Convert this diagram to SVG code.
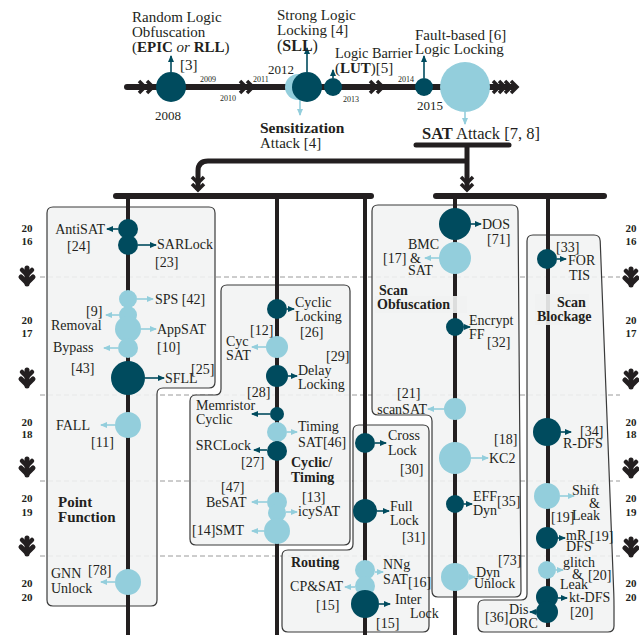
<svg xmlns="http://www.w3.org/2000/svg" width="639" height="635" viewBox="0 0 639 635">
<style>
text{font-family:"Liberation Serif","DejaVu Serif",serif;font-size:14px;fill:#231f20}
.b{font-weight:bold}
.it{font-style:italic}
.s{font-size:8px}
.m{font-size:13px}
.yr{font-size:11px;font-weight:bold;text-anchor:middle}
.e{text-anchor:end}
.dk{fill:#004b5e}
.lt{fill:#93cedc}
.ad{stroke:#004b5e;stroke-width:1.6;fill:none;marker-end:url(#mad)}
.al{stroke:#93cedc;stroke-width:1.6;fill:none;marker-end:url(#mal)}
.box{fill:#f1f2f2;fill-opacity:0.88;stroke:#3a3a3a;stroke-width:1.2}
.dash{stroke:#9a9a9a;stroke-width:1;stroke-dasharray:5 3}
.col{stroke:#231f20;stroke-width:4;fill:none}
.bar{stroke:#231f20;stroke-width:6;fill:none;stroke-linecap:round}
.ch{stroke:#231f20;stroke-width:3.5;fill:none}
</style>
<defs>
<marker id="mad" markerUnits="userSpaceOnUse" markerWidth="7" markerHeight="6" refX="6" refY="3" orient="auto"><path d="M0,0 L7,3 L0,6 Z" fill="#004b5e"/></marker>
<marker id="mal" markerUnits="userSpaceOnUse" markerWidth="7" markerHeight="6" refX="6" refY="3" orient="auto"><path d="M0,0 L7,3 L0,6 Z" fill="#93cedc"/></marker>
<path id="chr" d="M-4,-6 L2,0 L-4,6"/>
<path id="chd" d="M-6,-4 L0,2 L6,-4"/>
<g id="ych" fill="none" stroke="#231f20" stroke-linecap="round" stroke-linejoin="round">
<path d="M-5,-7 L0,-2 L5,-7" stroke-width="4.5"/>
<path d="M-6,0 L0,6 L6,0" stroke-width="5"/>
<path d="M0,-9 V7" stroke-width="5"/>
</g>
</defs>

<!-- dashed year separators -->
<g id="separators">
<line class="dash" x1="40" y1="277" x2="620" y2="277"/>
<line class="dash" x1="40" y1="395" x2="620" y2="395"/>
<line class="dash" x1="40" y1="481" x2="620" y2="481"/>
<line class="dash" x1="40" y1="556" x2="620" y2="556"/>
</g>

<!-- year labels -->
<g id="years">
<text class="yr" x="27" y="232">20</text><text class="yr" x="27" y="245">16</text>
<text class="yr" x="27" y="324">20</text><text class="yr" x="27" y="337">17</text>
<text class="yr" x="27" y="426">20</text><text class="yr" x="27" y="438">18</text>
<text class="yr" x="27" y="502">20</text><text class="yr" x="27" y="516">19</text>
<text class="yr" x="27" y="587">20</text><text class="yr" x="27" y="601">20</text>
<text class="yr" x="631" y="232">20</text><text class="yr" x="631" y="245">16</text>
<text class="yr" x="631" y="324">20</text><text class="yr" x="631" y="337">17</text>
<text class="yr" x="631" y="426">20</text><text class="yr" x="631" y="438">18</text>
<text class="yr" x="631" y="502">20</text><text class="yr" x="631" y="516">19</text>
<text class="yr" x="631" y="587">20</text><text class="yr" x="631" y="601">20</text>
<use href="#ych" x="27" y="277"/><use href="#ych" x="27" y="379"/><use href="#ych" x="27" y="468"/><use href="#ych" x="27" y="547"/>
<use href="#ych" x="631" y="278"/><use href="#ych" x="631" y="380"/><use href="#ych" x="631" y="469"/><use href="#ych" x="631" y="548"/>
</g>

<!-- category boxes -->
<g id="box-point-function">
<path class="box" d="M53,207 H209 Q215,207 215,213 V382 Q215,388 209,388 H163 Q157,388 157,394 V600 Q157,606 151,606 H53 Q47,606 47,600 V213 Q47,207 53,207 Z"/>
<text class="b" x="58" y="507" style="font-size:15px">Point</text>
<text class="b" x="58" y="522" style="font-size:15px">Function</text>
</g>
<g id="box-cyclic-timing">
<path class="box" d="M227,285 H344 Q350,285 350,291 V539 Q350,545 344,545 H196 Q190,545 190,539 V401 Q190,395 196,395 H215 Q221,395 221,389 V291 Q221,285 227,285 Z"/>
</g>
<g id="box-routing">
<path class="box" d="M359,425 H423 Q429,425 429,431 V626 Q429,632 423,632 H288 Q282,632 282,626 V556 Q282,550 288,550 H347 Q353,550 353,544 V431 Q353,425 359,425 Z"/>
</g>
<g id="box-scan-obfuscation">
<path class="box" d="M378,205 H512 Q518,205 518,211 L521,591 Q521,597 515,597 H438 Q432,597 432,591 V421 Q432,415 426,415 H378 Q372,415 372,409 V211 Q372,205 378,205 Z"/>
</g>
<g id="box-scan-blockage">
<path class="box" d="M533,235 H594 Q600,235 600.2,241 L613.8,594 Q614,600 614,606 V626 Q614,632 608,632 H484 Q478,632 478,626 V606 Q478,600 484,600 H521 Q527,600 527,594 V241 Q527,235 533,235 Z"/>
</g>

<!-- connectors -->
<g id="connectors">
<line class="bar" x1="127" y1="87" x2="512" y2="87"/>
<use href="#chr" class="ch" x="143" y="87"/><use href="#chr" class="ch" x="151" y="87"/>
<use href="#chr" class="ch" x="244" y="87"/><use href="#chr" class="ch" x="251" y="87"/>
<use href="#chr" class="ch" x="374" y="87"/><use href="#chr" class="ch" x="381" y="87"/>
<use href="#chr" class="ch" x="497" y="87"/><use href="#chr" class="ch" x="503" y="87"/><use href="#chr" class="ch" x="509" y="87"/><use href="#chr" class="ch" x="515" y="87"/>
<line class="bar" x1="416" y1="145" x2="509" y2="145" style="stroke-width:5"/>
<path class="col" d="M467,145 V190" style="stroke-width:5"/>
<path class="col" d="M467,161 H208 Q198,161 198,171 V190" style="stroke-width:5"/>
<use href="#chd" class="ch" x="198" y="181"/><use href="#chd" class="ch" x="198" y="188"/>
<use href="#chd" class="ch" x="467" y="181"/><use href="#chd" class="ch" x="467" y="188"/>
<line class="bar" x1="116" y1="196" x2="371" y2="196"/>
<line class="bar" x1="436" y1="196" x2="604" y2="196"/>
<line class="col" x1="128" y1="196" x2="128" y2="635"/>
<line class="col" x1="277" y1="196" x2="277" y2="635"/>
<line class="col" x1="365" y1="196" x2="365" y2="635"/>
<line class="col" x1="455" y1="196" x2="455" y2="635"/>
<line class="col" x1="548" y1="196" x2="548" y2="627"/>
</g>

<rect x="375" y="296" width="92" height="17" fill="#f1f2f2" fill-opacity="0.9"/>
<rect x="535" y="294" width="54" height="31" fill="#f1f2f2" fill-opacity="0.9"/>
<g id="labels-scan">
<text class="b" x="379" y="295">Scan</text>
<text class="b" x="377" y="309">Obfuscation</text>
<text class="b" x="557" y="307">Scan</text>
<text class="b" x="537" y="321">Blockage</text>
</g>
<g id="labels-cyclic-routing">
<text class="b" x="291" y="467">Cyclic/</text>
<text class="b" x="291" y="482">Timing</text>
<text class="b" x="291" y="567">Routing</text>
</g>

<!-- top timeline nodes -->
<g id="n-rll">
<circle class="dk" cx="171" cy="87" r="15"/>
<line class="ad" x1="171" y1="72" x2="171" y2="56"/>
<text x="132" y="22" style="font-size:15px">Random Logic</text>
<text x="132" y="37" style="font-size:15px">Obfuscation</text>
<text x="132" y="52" style="font-size:15px">(<tspan class="b">EPIC</tspan> <tspan class="it">or</tspan> <tspan class="b">RLL</tspan>)</text>
<text x="180" y="70" style="font-size:15px">[3]</text>
<text class="m" x="155" y="120">2008</text>
</g>
<g id="yr-labels-top">
<text class="s" x="200" y="82">2009</text>
<text class="s" x="220" y="101">2010</text>
<text class="s" x="253" y="82">2011</text>
<text class="s" x="343" y="102">2013</text>
<text class="s" x="398" y="82">2014</text>
<text class="m" x="268" y="74">2012</text>
<text class="m" x="417" y="110">2015</text>
</g>
<g id="n-sensitization">
<circle class="lt" cx="298" cy="87" r="13"/>
<line class="al" x1="300" y1="100" x2="300" y2="115"/>
<text class="b" x="260" y="133" style="font-size:15.5px">Sensitization</text>
<text x="260" y="148" style="font-size:15px">Attack [4]</text>
</g>
<g id="n-sll">
<circle class="dk" cx="307" cy="87" r="15"/>
<line class="ad" x1="307" y1="72" x2="307" y2="48"/>
<text x="277" y="20" style="font-size:15px">Strong Logic</text>
<text x="277" y="35" style="font-size:15px">Locking [4]</text>
<text x="277" y="51" style="font-size:16px">(<tspan class="b">SLL</tspan>)</text>
</g>
<g id="n-lut">
<circle class="dk" cx="333" cy="87" r="9"/>
<line class="ad" x1="333" y1="78" x2="333" y2="70"/>
<text x="335" y="58" style="font-size:14.3px">Logic Barrier</text>
<text x="335" y="73" style="font-size:15px">(<tspan class="b">LUT</tspan>)[5]</text>
</g>
<g id="n-fault">
<circle class="dk" cx="424" cy="87" r="9"/>
<line class="ad" x1="424" y1="78" x2="424" y2="56"/>
<text x="415" y="40" style="font-size:15px">Fault-based [6]</text>
<text x="415" y="54" style="font-size:15px">Logic Locking</text>
</g>
<g id="n-sat">
<circle class="lt" cx="465" cy="87" r="25"/>
<line class="al" x1="465" y1="112" x2="465" y2="124"/>
<text x="422" y="139" style="font-size:16.5px"><tspan class="b">SAT</tspan> Attack [7, 8]</text>
</g>

<!-- column A: point function -->
<g id="n-antisat">
<circle class="dk" cx="128" cy="229" r="10"/>
<line class="ad" x1="118" y1="229" x2="107" y2="229"/>
<text class="e" x="105" y="234">AntiSAT</text>
<text x="67" y="251">[24]</text>
</g>
<g id="n-sarlock">
<circle class="dk" cx="128" cy="245" r="10"/>
<line class="ad" x1="138" y1="245" x2="156" y2="245"/>
<text x="157" y="249">SARLock</text>
<text x="155" y="267">[23]</text>
</g>
<g id="n-sps">
<circle class="lt" cx="128" cy="299" r="9"/>
<line class="al" x1="137" y1="299" x2="153" y2="299"/>
<text x="155" y="304">SPS [42]</text>
</g>
<g id="n-removal">
<circle class="lt" cx="128" cy="315" r="9"/>
<line class="al" x1="119" y1="315" x2="106" y2="315"/>
<text x="86" y="316">[9]</text>
<text x="51" y="330">Removal</text>
</g>
<g id="n-appsat">
<circle class="lt" cx="128" cy="329" r="13"/>
<line class="al" x1="141" y1="329" x2="156" y2="329"/>
<text x="157" y="334">AppSAT</text>
<text x="157" y="352">[10]</text>
</g>
<g id="n-bypass">
<circle class="lt" cx="128" cy="348" r="10"/>
<line class="al" x1="118" y1="348" x2="104" y2="348"/>
<text x="53" y="352">Bypass</text>
<text x="71" y="373">[43]</text>
</g>
<g id="n-sfll">
<circle class="dk" cx="128" cy="378" r="17"/>
<line class="ad" x1="145" y1="378" x2="164" y2="378"/>
<text x="165" y="383">SFLL</text>
<text x="191" y="374">[25]</text>
</g>
<g id="n-fall">
<circle class="lt" cx="128" cy="425" r="13"/>
<line class="al" x1="115" y1="425" x2="101" y2="425"/>
<text x="56" y="430">FALL</text>
<text x="91" y="447">[11]</text>
</g>
<g id="n-gnn">
<circle class="lt" cx="128" cy="582" r="13"/>
<line class="al" x1="115" y1="582" x2="101" y2="582"/>
<text x="51" y="578">GNN</text>
<text x="88" y="575">[78]</text>
<text x="51" y="593">Unlock</text>
</g>

<!-- column B: cyclic / timing -->
<g id="n-cyclic-locking">
<circle class="dk" cx="277" cy="309" r="10"/>
<line class="ad" x1="287" y1="309" x2="294" y2="309"/>
<text x="295" y="307">Cyclic</text>
<text x="295" y="321">Locking</text>
<text x="300" y="337">[26]</text>
</g>
<g id="n-cycsat">
<circle class="lt" cx="277" cy="347" r="11"/>
<line class="al" x1="266" y1="347" x2="252" y2="347"/>
<text x="250" y="335">[12]</text>
<text x="226" y="346">Cyc</text>
<text x="226" y="360">SAT</text>
</g>
<g id="n-delay">
<circle class="dk" cx="277" cy="376" r="11"/>
<line class="ad" x1="288" y1="376" x2="297" y2="376"/>
<text x="326" y="361">[29]</text>
<text x="298" y="375">Delay</text>
<text x="298" y="389">Locking</text>
<text x="247" y="397">[28]</text>
</g>
<g id="n-memristor">
<circle class="dk" cx="277" cy="414" r="7"/>
<line class="ad" x1="270" y1="414" x2="252" y2="414"/>
<text x="196" y="410">Memristor</text>
<text x="196" y="424">Cyclic</text>
</g>
<g id="n-timingsat">
<circle class="lt" cx="277" cy="432" r="10"/>
<line class="al" x1="287" y1="432" x2="297" y2="432"/>
<text x="298" y="431">Timing</text>
<text x="298" y="447">SAT[46]</text>
</g>
<g id="n-srclock">
<circle class="dk" cx="277" cy="451" r="10"/>
<line class="ad" x1="267" y1="450" x2="254" y2="450"/>
<text class="e" x="251" y="450">SRCLock</text>
<text x="241" y="467">[27]</text>
</g>
<g id="n-besat">
<circle class="lt" cx="277" cy="502" r="10"/>
<line class="al" x1="267" y1="502" x2="252" y2="502"/>
<text x="221" y="492">[47]</text>
<text x="206" y="507">BeSAT</text>
</g>
<g id="n-icysat">
<circle class="lt" cx="277" cy="513" r="9"/>
<line class="al" x1="286" y1="512" x2="297" y2="512"/>
<text x="302" y="502">[13]</text>
<text x="298" y="516">icySAT</text>
</g>
<g id="n-smt">
<circle class="lt" cx="277" cy="531" r="13"/>
<line class="al" x1="264" y1="531" x2="252" y2="531"/>
<text x="192" y="535">[14]SMT</text>
</g>

<!-- column C: routing -->
<g id="n-crosslock">
<circle class="dk" cx="365" cy="443" r="10"/>
<line class="ad" x1="375" y1="443" x2="386" y2="443"/>
<text x="388" y="440">Cross</text>
<text x="388" y="455">Lock</text>
<text x="400" y="474">[30]</text>
</g>
<g id="n-fulllock">
<circle class="dk" cx="365" cy="511" r="12"/>
<line class="ad" x1="377" y1="511" x2="389" y2="511"/>
<text x="390" y="511">Full</text>
<text x="390" y="525">Lock</text>
<text x="402" y="542">[31]</text>
</g>
<g id="n-nngsat">
<circle class="lt" cx="365" cy="570" r="10"/>
<line class="al" x1="375" y1="572" x2="383" y2="572"/>
<text x="383" y="569">NNg</text>
<text x="383" y="584">SAT<tspan dy="3">[16]</tspan></text>
</g>
<g id="n-cpsat">
<circle class="lt" cx="365" cy="586" r="10"/>
<line class="al" x1="355" y1="587" x2="345" y2="587"/>
<text class="e" x="343" y="591">CP&amp;SAT</text>
<text x="316" y="610">[15]</text>
</g>
<g id="n-interlock">
<circle class="dk" cx="365" cy="604" r="14"/>
<line class="ad" x1="379" y1="604" x2="390" y2="604"/>
<text x="395" y="604">Inter</text>
<text x="410" y="618">Lock</text>
<text x="376" y="628">[15]</text>
</g>

<!-- column D: scan obfuscation -->
<g id="n-dos">
<circle class="dk" cx="455" cy="224" r="16"/>
<line class="ad" x1="471" y1="224" x2="481" y2="224"/>
<text x="482" y="229">DOS</text>
<text x="487" y="244">[71]</text>
</g>
<g id="n-bmc">
<circle class="lt" cx="455" cy="258" r="16"/>
<line class="al" x1="439" y1="258" x2="425" y2="258"/>
<text x="408" y="249">BMC</text>
<text x="383" y="263">[17]</text>
<text x="410" y="263">&amp;</text>
<text x="408" y="275">SAT</text>
</g>
<g id="n-encryptff">
<circle class="dk" cx="455" cy="327" r="9"/>
<line class="ad" x1="464" y1="327" x2="470" y2="327"/>
<text x="469" y="325">Encrypt</text>
<text x="469" y="339">FF</text>
<text x="487" y="347">[32]</text>
</g>
<g id="n-scansat">
<circle class="lt" cx="455" cy="409" r="11"/>
<line class="al" x1="444" y1="409" x2="428" y2="409"/>
<text class="e" x="427" y="414">scanSAT</text>
<text x="397" y="398">[21]</text>
</g>
<g id="n-kc2">
<circle class="lt" cx="455" cy="458" r="16"/>
<line class="al" x1="471" y1="458" x2="488" y2="458"/>
<text x="489" y="463">KC2</text>
<text x="494" y="444">[18]</text>
</g>
<g id="n-effdyn">
<circle class="dk" cx="455" cy="504" r="9"/>
<line class="ad" x1="464" y1="504" x2="472" y2="504"/>
<text x="473" y="501">EFF</text>
<text x="497" y="506">[35]</text>
<text x="473" y="515">Dyn</text>
</g>
<g id="n-dynunlock">
<circle class="lt" cx="455" cy="577" r="14"/>
<line class="al" x1="469" y1="577" x2="475" y2="577"/>
<text x="498" y="565">[73]</text>
<text x="476" y="577">Dyn</text>
<text x="474" y="588">Unlock</text>
</g>

<!-- column E: scan blockage -->
<g id="n-fortis">
<circle class="dk" cx="547" cy="259" r="10"/>
<line class="ad" x1="557" y1="259" x2="566" y2="259"/>
<text x="556" y="252">[33]</text>
<text x="568" y="265">FOR</text>
<text x="569" y="280">TIS</text>
</g>
<g id="n-rdfs">
<circle class="dk" cx="547" cy="432" r="14"/>
<line class="ad" x1="561" y1="432" x2="571" y2="432"/>
<text x="580" y="436">[34]</text>
<text x="563" y="448">R-DFS</text>
</g>
<g id="n-shiftleak">
<circle class="lt" cx="547" cy="496" r="13"/>
<line class="al" x1="560" y1="496" x2="574" y2="496"/>
<text x="572" y="495">Shift</text>
<text x="589" y="508">&amp;</text>
<text x="551" y="522">[19]</text>
<text x="572" y="520">Leak</text>
</g>
<g id="n-mrdfs">
<circle class="dk" cx="547" cy="538" r="11"/>
<line class="ad" x1="558" y1="538" x2="565" y2="538"/>
<text x="566" y="540">mR</text>
<text x="590" y="541">[19]</text>
<text x="566" y="551">DFS</text>
</g>
<g id="n-glitch">
<circle class="lt" cx="547" cy="570" r="9"/>
<line class="al" x1="556" y1="570" x2="563" y2="570"/>
<text x="563" y="567">glitch</text>
<text x="572" y="579">&amp;</text>
<text x="588" y="580">[20]</text>
<text x="560" y="589">Leak</text>
</g>
<g id="n-ktdfs">
<circle class="dk" cx="547" cy="597" r="11"/>
<line class="ad" x1="558" y1="598" x2="567" y2="598"/>
<text x="569" y="602">kt-DFS</text>
<text x="570" y="617">[20]</text>
</g>
<g id="n-disorc">
<circle class="dk" cx="547" cy="612" r="11"/>
<line class="ad" x1="536" y1="612" x2="530" y2="612"/>
<text x="509" y="614">Dis</text>
<text x="509" y="628">ORC</text>
<text x="485" y="622">[36]</text>
</g>
</svg>
